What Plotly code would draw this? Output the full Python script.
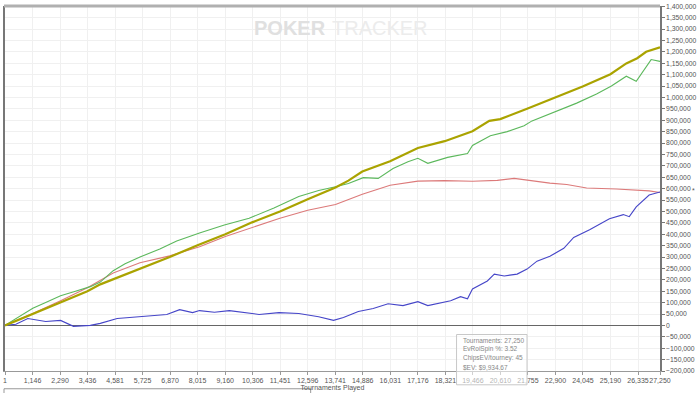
import plotly.graph_objects as go

# ---- data ----
x_ticks = [1, 1146, 2290, 3436, 4581, 5725, 6870, 8015, 9160, 10306, 11451, 12596,
           13741, 14886, 16031, 17176, 18321, 19466, 20610, 21755, 22900, 24045,
           25190, 26335, 27250]
x_tick_text = ["1", "1,146", "2,290", "3,436", "4,581", "5,725", "6,870", "8,015",
               "9,160", "10,306", "11,451", "12,596", "13,741", "14,886", "16,031",
               "17,176", "18,321", "19,466", "20,610", "21,755", "22,900", "24,045",
               "25,190", "26,335", "27,250"]

olive_t = [1, 1157, 2313, 3428, 3965, 4584, 5740, 6855, 8011, 9167, 10282, 11438,
           12594, 13750, 14287, 14865, 16021, 17177, 18292, 19448, 20150, 20604,
           21719, 22875, 24031, 25187, 25848, 26302, 26674, 27250]
olive_v = [0, 50000, 100000, 150000, 180000, 205000, 252000, 300000, 352000, 400000,
           452000, 500000, 553000, 605000, 635000, 675000, 720000, 778000, 808000,
           852000, 897000, 905000, 950000, 1000000, 1048000, 1102000, 1149000,
           1172000, 1200000, 1220000]

green_px = [4, 20, 32, 45, 60, 75, 90, 100, 113, 125, 140, 160, 177, 200, 225, 250,
            275, 300, 320, 337, 350, 365, 380, 395, 410, 420, 430, 450, 470, 475,
            493, 510, 527, 535, 560, 580, 600, 615, 630, 640, 655, 664]
green_t = [round((p - 4) * 41.29) + 1 for p in green_px]
green_v = [0, 45000, 75000, 100000, 130000, 150000, 170000, 190000, 240000, 270000,
           300000, 335000, 370000, 405000, 440000, 470000, 515000, 565000, 592000,
           608000, 622000, 648000, 645000, 688000, 718000, 733000, 711000, 737000,
           754000, 789000, 832000, 850000, 876000, 897000, 940000, 975000, 1015000,
           1050000, 1093000, 1071000, 1166000, 1158000]

red_px = [4, 32, 60, 87, 113, 140, 170, 200, 226, 253, 281, 309, 337, 364, 392, 420,
          447, 475, 500, 517, 535, 553, 570, 590, 620, 653, 664]
red_t = [round((p - 4) * 41.29) + 1 for p in red_px]
red_v = [0, 52000, 108000, 165000, 230000, 275000, 305000, 345000, 390000, 430000,
         470000, 505000, 530000, 575000, 615000, 633000, 635000, 632000, 636000,
         645000, 635000, 624000, 618000, 603000, 598000, 590000, 583000]

blue_px = [4, 15, 27, 45, 60, 73, 90, 100, 117, 140, 167, 180, 193, 200, 215, 230,
           245, 260, 280, 300, 320, 335, 345, 360, 375, 390, 405, 420, 430, 453, 463,
           470, 475, 490, 497, 507, 520, 530, 540, 553, 567, 577, 593, 613, 627, 633,
           640, 653, 664]
blue_t = [round((p - 4) * 41.29) + 1 for p in blue_px]
blue_v = [0, 5000, 30000, 17000, 22000, -4000, 0, 9000, 30000, 39000, 48000, 69000,
          56000, 65000, 58000, 65000, 55000, 48000, 56000, 52000, 38000, 22000, 35000,
          61000, 74000, 95000, 87000, 104000, 87000, 108000, 126000, 117000, 160000,
          195000, 225000, 217000, 225000, 247000, 282000, 303000, 338000, 386000,
          420000, 468000, 486000, 477000, 520000, 572000, 585000]

tooltip_lines = ["Tournaments: 27,250", "EvRoiSpin %: 3.52", "ChipsEV/tourney: 45",
                 "$EV: $9,934.67"]

# ---- figure ----
fig = go.Figure()
fig.add_trace(go.Scatter(x=red_t, y=red_v, mode="lines",
                         line=dict(color="#dc7a7a", width=1.1), hoverinfo="skip"))
fig.add_trace(go.Scatter(x=blue_t, y=blue_v, mode="lines",
                         line=dict(color="#4646c8", width=1.1), hoverinfo="skip"))
fig.add_trace(go.Scatter(x=green_t, y=green_v, mode="lines",
                         line=dict(color="#5cb85c", width=1.1), hoverinfo="skip"))
fig.add_trace(go.Scatter(x=olive_t, y=olive_v, mode="lines",
                         line=dict(color="#aaa300", width=2.2), hoverinfo="skip"))

L, R, T, B = 4, 664, 3, 373
W, H = R - L, B - T


def px(xp):
    return (xp - L) / W


def py(yp):
    return (B - yp) / H


FONT = "Liberation Sans, Arial"

fig.update_layout(
    width=700, height=393,
    margin=dict(l=L, r=700 - R, t=T, b=393 - B),
    paper_bgcolor="white", plot_bgcolor="white",
    showlegend=False,
    font=dict(family=FONT, size=7, color="#555"),
    xaxis=dict(range=[1, 27250], tickvals=x_ticks, ticktext=x_tick_text,
               tickangle=0,
               showgrid=True, gridcolor="#f0f0f0", gridwidth=1,
               showline=True, linecolor="#999", linewidth=1,
               ticks="outside", ticklen=3, tickcolor="#999",
               tickfont=dict(size=7, color="#555", family=FONT), zeroline=False,
               title=dict(text="Tournaments Played",
                          font=dict(size=7, color="#555", family=FONT),
                          standoff=1)),
    yaxis=dict(range=[-200000, 1401000], tickvals=list(range(-200000, 1400001, 50000)),
               side="right", ticklabeloverflow="allow",
               tickformat=",d", showgrid=True, gridcolor="#f0f0f0", gridwidth=1,
               showline=True, linecolor="#777", linewidth=1.5, mirror=True,
               ticks="outside", ticklen=3, tickcolor="#777",
               tickfont=dict(size=6.8, color="#555", family=FONT),
               zeroline=True, zerolinecolor="#666", zerolinewidth=1),
)

shapes = [
    # top border
    dict(type="line", xref="paper", yref="paper", x0=px(3), x1=1, y0=1, y1=1,
         line=dict(color="#b0b0b0", width=3)),
    # tooltip box
    dict(type="rect", xref="paper", yref="paper", x0=px(459), x1=px(530),
         y0=py(387), y1=py(336), line=dict(color="#c8c8c8", width=1),
         fillcolor="rgba(255,255,255,0.55)", layer="above"),
    # bottom strip
    dict(type="rect", xref="paper", yref="paper", x0=px(3), x1=px(312),
         y0=py(397), y1=py(391), line=dict(color="#999", width=1),
         fillcolor="white"),
]
fig.update_layout(shapes=shapes)

ann = [
    dict(text="<b>POKER</b>", x=px(329), y=py(25), xref="paper", yref="paper",
         xanchor="right", yanchor="middle", showarrow=False,
         font=dict(size=20, color="#e0e0e0", family="Liberation Sans, Arial")),
    dict(text="TRACKER", x=px(331), y=py(25), xref="paper", yref="paper",
         xanchor="left", yanchor="middle", showarrow=False,
         font=dict(size=20, color="#ececec", family="Liberation Sans, Arial")),
    dict(text="*", x=px(697.5), y=py(190), xref="paper", yref="paper",
         xanchor="center", yanchor="middle", showarrow=False,
         font=dict(size=7, color="#555")),
]
for i, t in enumerate(tooltip_lines):
    ann.append(dict(text=t, x=px(463), y=py(342 + 9 * i), xref="paper", yref="paper",
                    xanchor="left", yanchor="middle", showarrow=False,
                    font=dict(size=6.5, color="#888", family=FONT)))
fig.update_layout(annotations=ann)

fig.write_html(
    "out.html",
    config={"displayModeBar": False},
    post_script="document.body.style.margin='0';document.body.style.padding='0';"
                "document.body.style.overflow='hidden';",
)
